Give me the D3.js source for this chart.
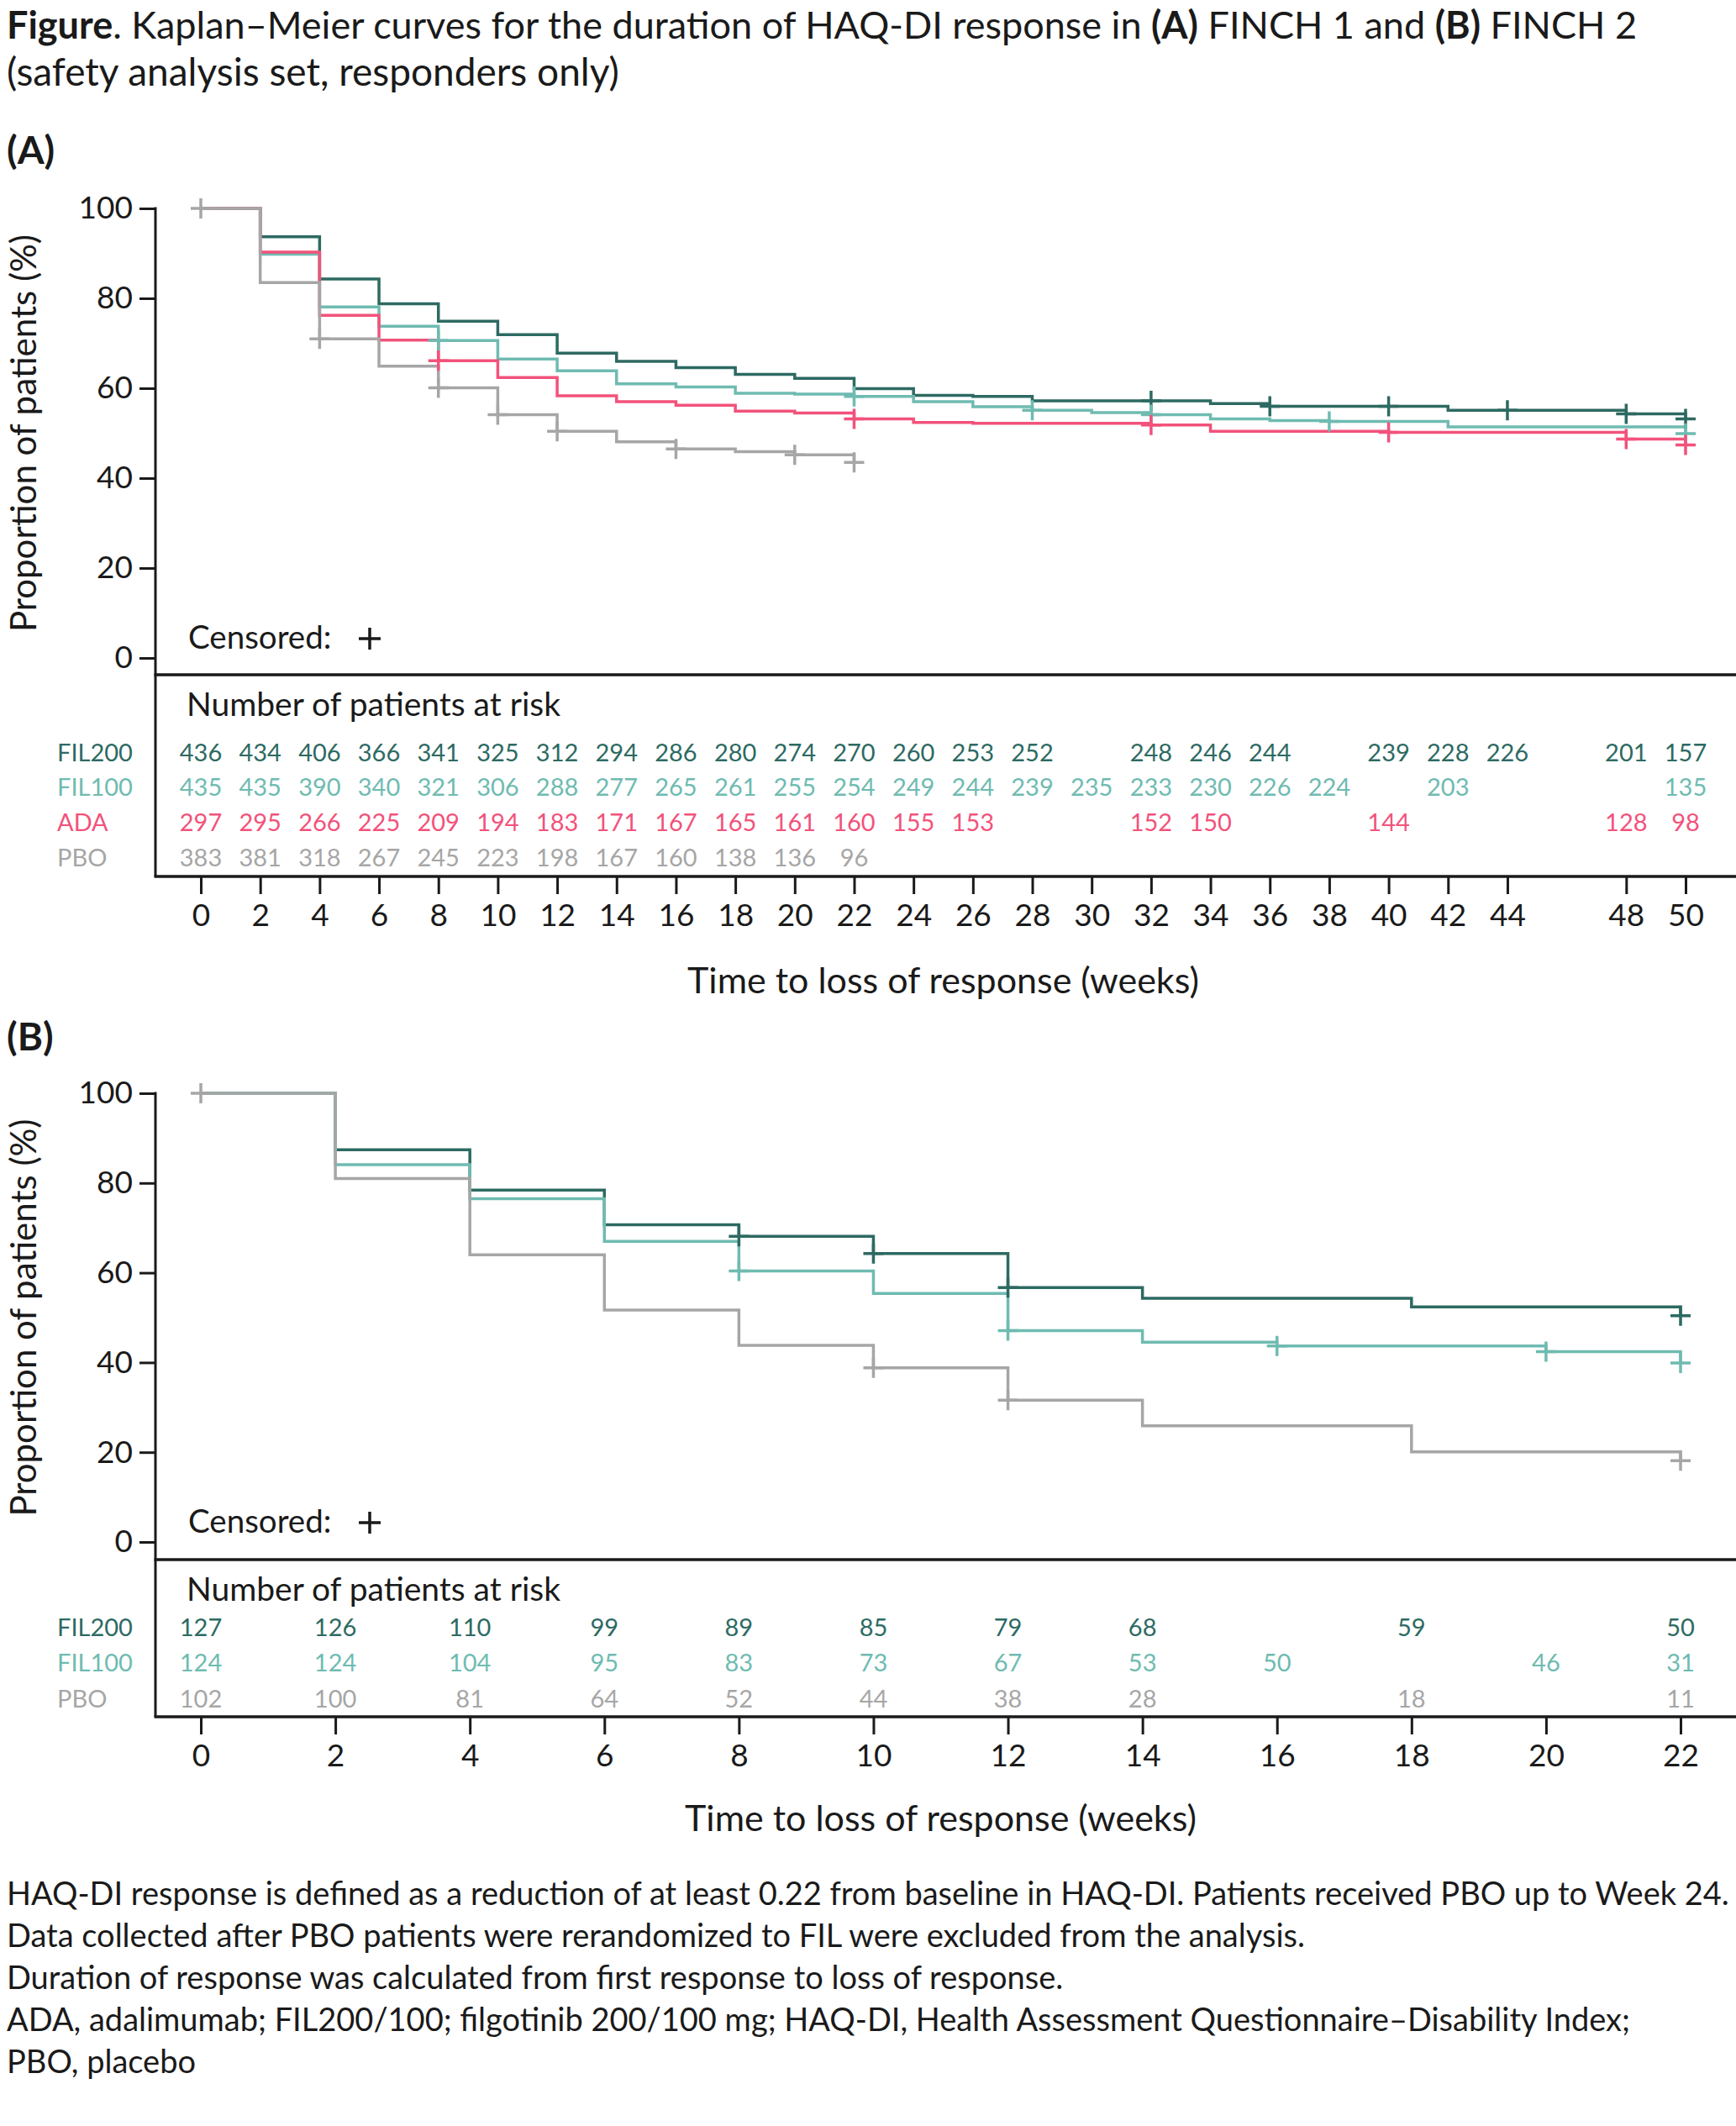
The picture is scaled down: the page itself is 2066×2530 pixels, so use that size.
<!DOCTYPE html>
<html>
<head>
<meta charset="utf-8">
<script src="https://cdn.jsdelivr.net/npm/d3@7"></script>
<style>
  body { margin: 0; background: #fff; }
  text { font-family: Lato, "Open Sans", sans-serif; fill: #1a1a1a; }
</style>
</head>
<body>
<div id="chart"></div>
<script>
// ---- data ----
const colors = { FIL200: "#2d6a62", FIL100: "#6fbbb1", ADA: "#f2527b", PBO: "#a6a6a6" };

// (A) FINCH 1: [week, % still responding]
const kmA_FIL200 = [[0,100],[2,93.7],[4,84.3],[6,78.8],[8,74.9],[10,71.9],[12,67.8],[14,66.0],[16,64.6],[18,63.1],[20,62.2],[22,59.9],[24,58.4],[26,58.2],[28,57.2],[34,56.6],[36,56.0],[42,55.1],[48,54.3],[50,53.2]];
const kmA_FIL100 = [[0,100],[2,89.8],[4,78.1],[6,73.8],[8,70.6],[10,66.5],[12,63.9],[14,61.0],[16,60.3],[18,58.9],[20,58.7],[22,58.2],[24,57.0],[26,55.9],[28,55.1],[30,54.6],[32,54.1],[34,53.2],[36,52.8],[38,52.6],[42,51.4],[50,49.9]];
const kmA_ADA    = [[0,100],[2,90.3],[4,76.2],[6,70.7],[8,66.1],[10,62.4],[12,58.3],[14,57.0],[16,56.2],[18,54.9],[20,54.5],[22,53.2],[24,52.4],[26,52.2],[32,51.8],[34,50.4],[40,50.2],[48,48.7],[50,47.4]];
const kmA_PBO    = [[0,100],[2,83.5],[4,71.0],[6,64.9],[8,60.1],[10,54.1],[12,50.4],[14,48.1],[16,46.5],[18,45.9],[20,45.2],[22,43.5]];

const censA_FIL200 = [32, 36, 40, 44, 48, 50];
const censA_FIL100 = [8, 22, 28, 32, 38, 50];
const censA_ADA    = [8, 22, 32, 40, 48, 50];
const censA_PBO    = [0, 4, 8, 10, 12, 16, 20, 22];

const weeksA = [0,2,4,6,8,10,12,14,16,18,20,22,24,26,28,30,32,34,36,38,40,42,44,48,50];
const riskA_FIL200 = [436,434,406,366,341,325,312,294,286,280,274,270,260,253,252,null,248,246,244,null,239,228,226,201,157];
const riskA_FIL100 = [435,435,390,340,321,306,288,277,265,261,255,254,249,244,239,235,233,230,226,224,null,203,null,null,135];
const riskA_ADA    = [297,295,266,225,209,194,183,171,167,165,161,160,155,153,null,null,152,150,null,null,144,null,null,128,98];
const riskA_PBO    = [383,381,318,267,245,223,198,167,160,138,136,96,null,null,null,null,null,null,null,null,null,null,null,null,null];

// (B) FINCH 2
const kmB_FIL200 = [[0,100],[2,87.4],[4,78.4],[6,70.7],[8,68.1],[10,64.3],[12,56.7],[14,54.3],[18,52.4],[22,50.4]];
const kmB_FIL100 = [[0,100],[2,84.1],[4,76.5],[6,67.0],[8,60.4],[10,55.4],[12,47.1],[14,44.5],[16,43.7],[20,42.4],[22,39.9]];
const kmB_PBO    = [[0,100],[2,81.0],[4,64.0],[6,51.7],[8,43.8],[10,38.8],[12,31.6],[14,25.9],[18,20.1],[22,18.1]];

const censB_FIL200 = [8, 10, 12, 22];
const censB_FIL100 = [8, 12, 16, 20, 22];
const censB_PBO    = [0, 10, 12, 22];

const weeksB = [0,2,4,6,8,10,12,14,16,18,20,22];
const riskB_FIL200 = [127,126,110,99,89,85,79,68,null,59,null,50];
const riskB_FIL100 = [124,124,104,95,83,73,67,53,50,null,46,31];
const riskB_PBO    = [102,100,81,64,52,44,38,28,null,18,null,11];

const yTicks = [0, 20, 40, 60, 80, 100];

const footnotes = [
  "HAQ-DI response is defined as a reduction of at least 0.22 from baseline in HAQ-DI. Patients received PBO up to Week 24.",
  "Data collected after PBO patients were rerandomized to FIL were excluded from the analysis.",
  "Duration of response was calculated from first response to loss of response.",
  "ADA, adalimumab; FIL200/100; filgotinib 200/100 mg; HAQ-DI, Health Assessment Questionnaire\u2013Disability Index;",
  "PBO, placebo"
];

// ---- drawing ----
const width = 2066, height = 2530;
const ink = "#1a1a1a";

const svg = d3.select("#chart")
  .append("svg")
  .attr("width", width)
  .attr("height", height);

const title = svg.append("text").attr("x", 8).attr("y", 46).style("font-size", "45px");
title.append("tspan").style("font-weight", "bold").text("Figure");
title.append("tspan").text(". Kaplan\u2013Meier curves for the duration of HAQ-DI response in ");
title.append("tspan").style("font-weight", "bold").text("(A)");
title.append("tspan").text(" FINCH 1 and ");
title.append("tspan").style("font-weight", "bold").text("(B)");
title.append("tspan").text(" FINCH 2");
svg.append("text").attr("x", 8).attr("y", 102).style("font-size", "46px")
  .text("(safety analysis set, responders only)");

function valueAt(curve, t) {
  let v = curve[0][1];
  curve.forEach(d => { if (d[0] <= t) v = d[1]; });
  return v;
}

function plus(g, cx, cy, r, color, w) {
  g.append("path")
    .attr("d", `M${cx - r},${cy}H${cx + r}M${cx},${cy - r}V${cy + r}`)
    .attr("stroke", color)
    .attr("stroke-width", w)
    .attr("fill", "none");
}

function drawPanel(p) {
  const g = svg.append("g");
  const left = 185;

  const x = d3.scaleLinear().domain([0, p.maxWeek]).range([239, p.xRight]);
  const y = d3.scaleLinear().domain([0, 100]).range([p.y0, p.y100]);

  g.append("text").attr("x", 8).attr("y", p.labelY)
    .style("font-size", "46px").style("font-weight", "bold").text(p.label);

  // y axis
  const yAxis = g.append("g")
    .attr("transform", `translate(${left},0)`)
    .call(d3.axisLeft(y).tickValues(yTicks).tickSize(19).tickSizeOuter(0).tickPadding(8));
  yAxis.select(".domain").remove();
  yAxis.selectAll(".tick line").attr("stroke", ink).attr("stroke-width", 3);
  yAxis.selectAll(".tick text").style("font-size", "37px").style("font-family", "Lato").attr("fill", ink);

  g.append("text")
    .attr("transform", `translate(43,${(p.y0 + p.y100) / 2}) rotate(-90)`)
    .attr("text-anchor", "middle")
    .style("font-size", "42px")
    .text("Proportion of patients (%)");

  // frame: axis line and at-risk box
  g.append("line").attr("x1", left).attr("x2", left).attr("y1", p.y100 - 1.5).attr("y2", p.boxBot)
    .attr("stroke", ink).attr("stroke-width", 3);
  [p.boxTop, p.boxBot].forEach(yy => {
    g.append("line").attr("x1", left - 1.5).attr("x2", width).attr("y1", yy).attr("y2", yy)
      .attr("stroke", ink).attr("stroke-width", 3.5);
  });

  // x axis under the box
  const xAxis = g.append("g")
    .attr("transform", `translate(0,${p.boxBot})`)
    .call(d3.axisBottom(x).tickValues(p.weeks).tickSize(21).tickSizeOuter(0).tickPadding(12));
  xAxis.select(".domain").remove();
  xAxis.selectAll(".tick line").attr("stroke", ink).attr("stroke-width", 3);
  xAxis.selectAll(".tick text").style("font-size", "37px").style("font-family", "Lato").attr("fill", ink);

  g.append("text")
    .attr("x", (x(0) + x(p.maxWeek)) / 2)
    .attr("y", p.xTitleY)
    .attr("text-anchor", "middle")
    .style("font-size", "43px")
    .text("Time to loss of response (weeks)");

  // curves
  const line = d3.line()
    .x(d => x(d[0]))
    .y(d => y(d[1]))
    .curve(d3.curveStepAfter);

  p.series.forEach(s => {
    g.append("path")
      .datum(s.km)
      .attr("d", line)
      .attr("fill", "none")
      .attr("stroke", colors[s.name])
      .attr("stroke-width", 3.5);
  });
  p.series.forEach(s => {
    s.cens.forEach(t => plus(g, x(t), y(valueAt(s.km, t)), 12, colors[s.name], 3.5));
  });

  // censored legend
  g.append("text").attr("x", 224).attr("y", p.censY).style("font-size", "38.5px").text("Censored:");
  plus(g, 440, p.censY - 12, 13, ink, 3.5);

  // number at risk
  g.append("text").attr("x", 222).attr("y", p.nrTitleY).style("font-size", "39px")
    .text("Number of patients at risk");

  p.series.forEach((s, i) => {
    const rowY = p.rowY[i];
    g.append("text").attr("x", 68).attr("y", rowY)
      .style("font-size", "29px").style("fill", colors[s.name]).text(s.name);
    g.selectAll(null)
      .data(p.weeks.map((w, j) => ({ w: w, n: s.risk[j] })).filter(d => d.n !== null))
      .enter()
      .append("text")
      .attr("x", d => x(d.w))
      .attr("y", rowY)
      .attr("text-anchor", "middle")
      .style("font-size", "29px")
      .style("fill", colors[s.name])
      .text(d => d.n);
  });
}

drawPanel({
  label: "(A)", labelY: 195,
  maxWeek: 50, xRight: 2006,
  y0: 783, y100: 248,
  boxTop: 803, boxBot: 1043,
  weeks: weeksA,
  censY: 772, nrTitleY: 852,
  rowY: [906, 947, 989, 1031],
  xTitleY: 1182,
  series: [
    { name: "FIL200", km: kmA_FIL200, cens: censA_FIL200, risk: riskA_FIL200 },
    { name: "FIL100", km: kmA_FIL100, cens: censA_FIL100, risk: riskA_FIL100 },
    { name: "ADA",    km: kmA_ADA,    cens: censA_ADA,    risk: riskA_ADA },
    { name: "PBO",    km: kmA_PBO,    cens: censA_PBO,    risk: riskA_PBO }
  ]
});

drawPanel({
  label: "(B)", labelY: 1250,
  maxWeek: 22, xRight: 2000,
  y0: 1835, y100: 1301,
  boxTop: 1856, boxBot: 2043,
  weeks: weeksB,
  censY: 1824, nrTitleY: 1905,
  rowY: [1947, 1989, 2032],
  xTitleY: 2179,
  series: [
    { name: "FIL200", km: kmB_FIL200, cens: censB_FIL200, risk: riskB_FIL200 },
    { name: "FIL100", km: kmB_FIL100, cens: censB_FIL100, risk: riskB_FIL100 },
    { name: "PBO",    km: kmB_PBO,    cens: censB_PBO,    risk: riskB_PBO }
  ]
});

svg.selectAll(null)
  .data(footnotes)
  .enter()
  .append("text")
  .attr("x", 8)
  .attr("y", (d, i) => 2267 + i * 50)
  .style("font-size", "38px")
  .text(d => d);
</script>
</body>
</html>
